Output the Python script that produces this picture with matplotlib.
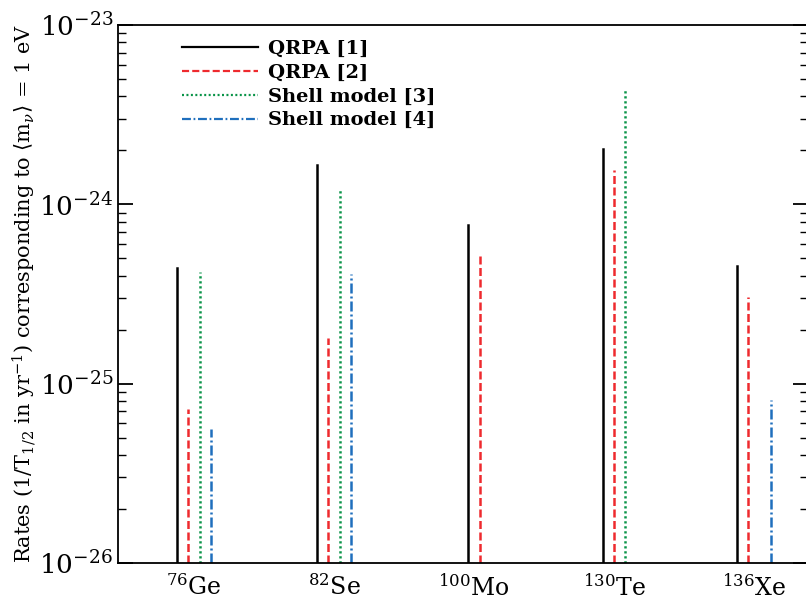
import matplotlib
matplotlib.use('Agg')
from matplotlib import pyplot as plt
from matplotlib.ticker import FixedLocator, NullFormatter

# isotopes and rates (1/T1/2 in yr^-1 for <m_nu> = 1 eV); None = not computed
isotopes = ['$^{76}$Ge', '$^{82}$Se', '$^{100}$Mo', '$^{130}$Te', '$^{136}$Xe']
qrpa_1 = [4.4e-25, 1.66e-24, 7.7e-25, 2.04e-24, 4.55e-25]
qrpa_2 = [7.2e-26, 1.8e-25, 5.35e-25, 1.55e-24, 3.05e-25]
shell_3 = [4.2e-25, 1.2e-24, None, 4.4e-24, None]
shell_4 = [5.6e-26, 4.1e-25, None, None, 8.1e-26]

labels = ['QRPA [1]', 'QRPA [2]', 'Shell model [3]', 'Shell model [4]']
series = [qrpa_1, qrpa_2, shell_3, shell_4]
colors = ['black', '#ee2a2e', '#0a9448', '#1f6fbd']
styles = ['-', (0, (3.2, 1.4)), (0, (0.9, 1.1)), (0, (4, 1.2, 0.8, 1.2))]

plt.rcParams['font.family'] = ['DejaVu Serif']
plt.rcParams['mathtext.fontset'] = 'dejavuserif'

fig = plt.figure(figsize=(8.06, 6.04), dpi=100)
ax = fig.add_axes([118 / 806, 41 / 604, 690 / 806, 538 / 604])

bottom = 1e-26
step = 0.08
for i in range(len(isotopes)):
    present = [k for k in range(4) if series[k][i] is not None]
    first, last = present[0], present[-1]
    center = (first + last) / 2.0
    for k in present:
        x = (i + 1) + (k - center) * step
        ax.plot([x, x], [bottom, series[k][i]], color=colors[k],
                linestyle=styles[k], lw=1.8)

# legend handles
for k in range(4):
    ax.plot([], [], color=colors[k], linestyle=styles[k], lw=1.6, label=labels[k])

ax.set_yscale('log')
ax.set_ylim(1e-26, 1e-23)
ax.set_xlim(1 - 76 / 140, 1 - 76 / 140 + 690 / 140)
ax.set_xticks(range(1, len(isotopes) + 1))
ax.set_xticklabels(isotopes, fontsize=17)
ax.tick_params(axis='x', length=0, pad=8)

decades = [-26, -25, -24, -23]
ax.yaxis.set_major_locator(FixedLocator([10.0 ** d for d in decades]))
ax.yaxis.set_minor_locator(FixedLocator([m * 10.0 ** d for d in decades[:-1] for m in range(2, 10)]))
ax.yaxis.set_minor_formatter(NullFormatter())
ax.tick_params(axis='y', which='both', direction='in', left=True, right=True, labelsize=19)
ax.tick_params(axis='y', which='major', length=11, width=1.3)
ax.tick_params(axis='y', which='minor', length=6, width=1.0)
for s in ax.spines.values():
    s.set_linewidth(1.3)

ax.set_ylabel(r'Rates (1/T$_{1/2}$ in yr$^{-1}$) corresponding to $\langle$m$_{\nu}\rangle$ = 1 eV',
              fontsize=15, labelpad=0)

leg = ax.legend(loc='upper left', bbox_to_anchor=(0.068, 1.005), frameon=False,
                prop={'weight': 'bold', 'size': 14}, handlelength=3.9,
                labelspacing=0.3, handletextpad=0.5)

fig.savefig('out.png', dpi=100)
